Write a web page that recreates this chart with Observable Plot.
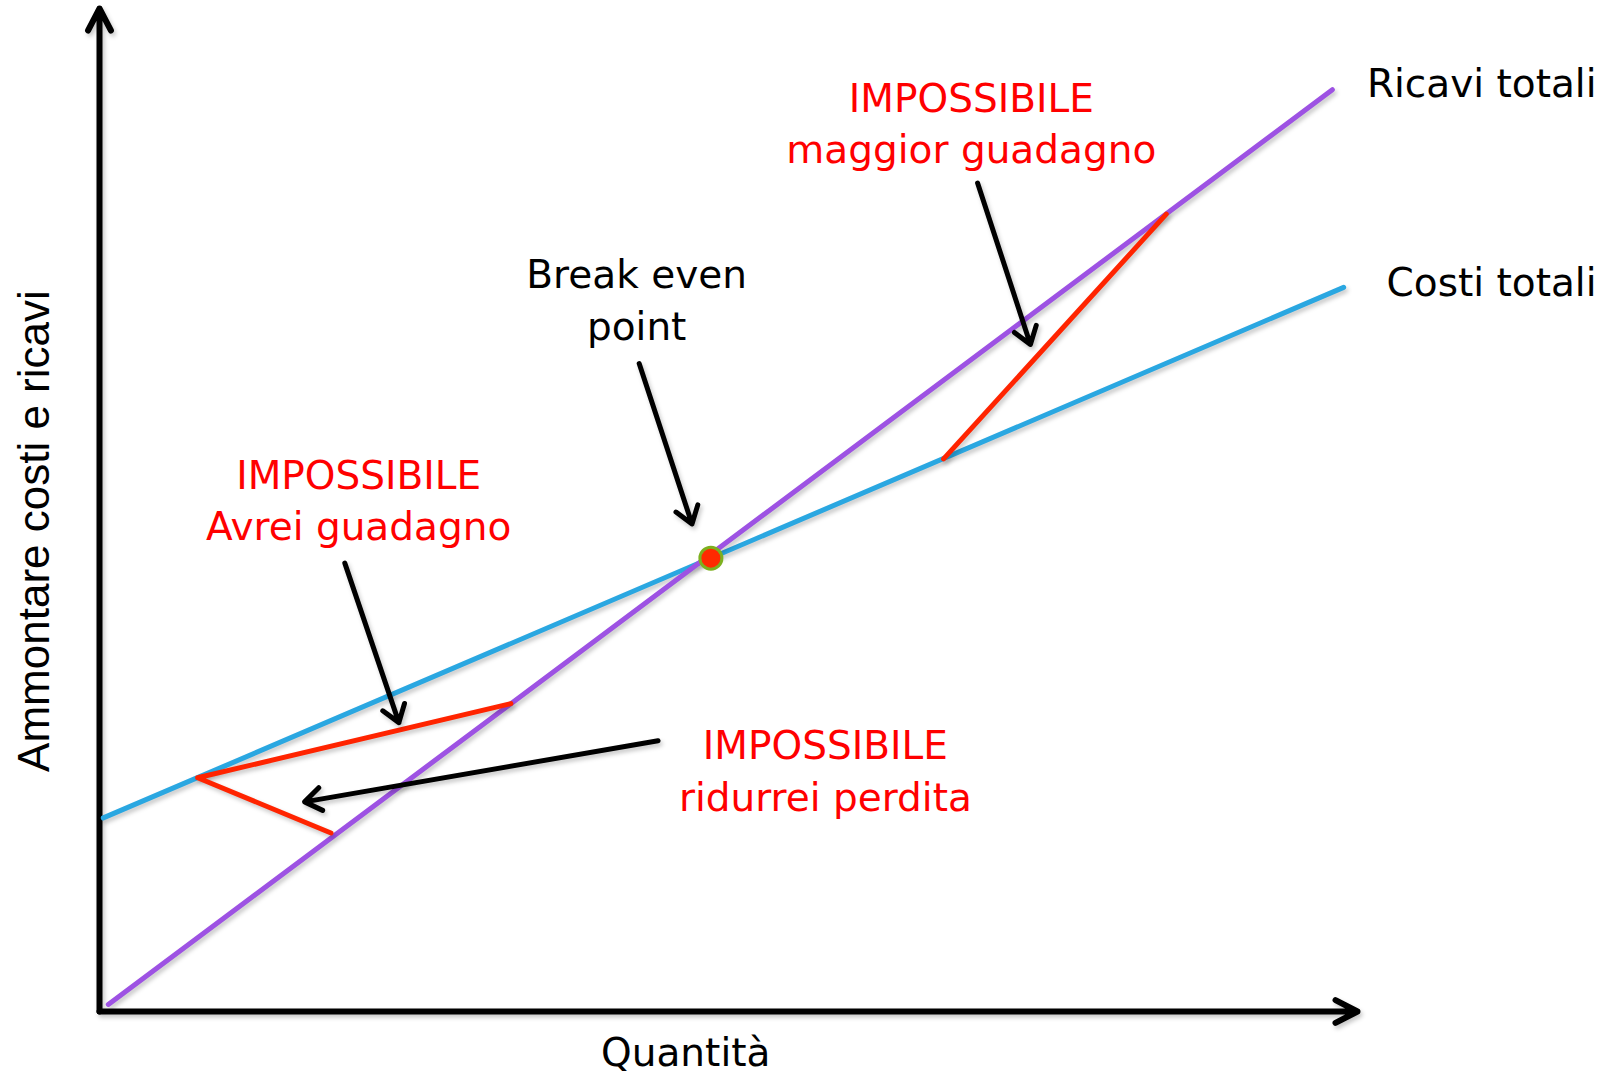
<!DOCTYPE html>
<html>
<head>
<meta charset="utf-8">
<script src="https://cdn.jsdelivr.net/npm/d3@7"></script>
<script src="https://cdn.jsdelivr.net/npm/@observablehq/plot@0.6"></script>
<style>
  html, body { margin: 0; padding: 0; background: #fff; }
  .shadow { filter: drop-shadow(2px 3px 2px rgba(0,0,0,0.22)); }
</style>
</head>
<body>
<div id="chart"></div>
<script>
// ---- Data (quantità on x, ammontare on y, arbitrary units 0..100) ----
const ricaviQ = [0.7, 98.0];
const ricaviV = [0.7, 91.9];
const costiQ = [0.3, 98.9];
const costiV = [19.3, 72.2];
const breakEven = [{q: 48.6, v: 45.2}];

// impossible points (red segments)
const segMaggiorQ = [84.8, 67.1];
const segMaggiorV = [79.5, 55.1];
const segAvreiQ = [32.7, 7.8, 18.4];
const segAvreiV = [30.7, 23.3, 17.8];

// annotation arrows (from label towards point)
const arrowFromQ = [42.9, 19.5, 44.4, 69.8];
const arrowFromV = [64.6, 44.7, 27.0, 82.6];
const arrowToQ = [47.1, 23.8, 16.3, 74.0];
const arrowToV = [48.6, 28.8, 20.9, 66.5];

// annotation labels
const redLabels = ["IMPOSSIBILE\nmaggior guadagno", "IMPOSSIBILE\nAvrei guadagno", "IMPOSSIBILE\nridurrei perdita"];
const redLabelQ = [69.3, 20.6, 57.7];
const redLabelV = [88.8, 51.2, 24.2];
const blackLabels = ["Break even\npoint"];
const blackLabelQ = [42.7];
const blackLabelV = [71.2];
const seriesLabels = ["Ricavi totali", "Costi totali"];
const seriesLabelQ = [119.0, 119.0];
const seriesLabelV = [92.4, 72.6];
const xTitle = "Quantità";
const yTitle = "Ammontare costi e ricavi";

// ---- Build tables ----
const toPts = (qs, vs) => qs.map((q, i) => ({q, v: vs[i]}));
const ricavi = toPts(ricaviQ, ricaviV);
const costi = toPts(costiQ, costiV);
const segMaggior = toPts(segMaggiorQ, segMaggiorV);
const segAvrei = toPts(segAvreiQ, segAvreiV);
const arrows = arrowFromQ.map((q, i) => ({x1: q, y1: arrowFromV[i], x2: arrowToQ[i], y2: arrowToV[i]}));
const redText = redLabels.map((t, i) => ({t, q: redLabelQ[i], v: redLabelV[i]}));
const blackText = blackLabels.map((t, i) => ({t, q: blackLabelQ[i], v: blackLabelV[i]}));
const seriesText = seriesLabels.map((t, i) => ({t, q: seriesLabelQ[i], v: seriesLabelV[i]}));
const axes = [{x1: 0, y1: 0, x2: 100, y2: 0}, {x1: 0, y1: 0, x2: 0, y2: 100}];

const font = "DejaVu Sans, Verdana, sans-serif";

const chart = Plot.plot({
  width: 1615,
  height: 1076,
  marginLeft: 99,
  marginRight: 258,
  marginTop: 8,
  marginBottom: 65,
  x: {domain: [0, 100], axis: null},
  y: {domain: [0, 100], axis: null},
  style: {background: "#fff", overflow: "visible"},
  marks: [
    // axes
    Plot.arrow(axes, {x1: "x1", y1: "y1", x2: "x2", y2: "y2", stroke: "#000", strokeWidth: 6, headLength: 6.2, headAngle: 55, className: "shadow"}),
    // lines
    Plot.line(costi, {x: "q", y: "v", stroke: "#2AA7E1", strokeWidth: 5, className: "shadow"}),
    Plot.line(ricavi, {x: "q", y: "v", stroke: "#9D52E3", strokeWidth: 5, className: "shadow"}),
    // impossible segments
    Plot.line(segMaggior, {x: "q", y: "v", stroke: "#FF2400", strokeWidth: 5, className: "shadow"}),
    Plot.line(segAvrei, {x: "q", y: "v", stroke: "#FF2400", strokeWidth: 5, className: "shadow"}),
    // annotation arrows
    Plot.arrow(arrows, {x1: "x1", y1: "y1", x2: "x2", y2: "y2", stroke: "#000", strokeWidth: 5, headLength: 6, headAngle: 70, className: "shadow"}),
    // break-even point
    Plot.dot(breakEven, {x: "q", y: "v", r: 11, fill: "#FF2A00", stroke: "#7DB01F", strokeWidth: 3}),
    // texts
    Plot.text(redText, {x: "q", y: "v", text: "t", fill: "#FF0000", fontSize: 39, fontFamily: font, lineHeight: 1.33}),
    Plot.text(blackText, {x: "q", y: "v", text: "t", fill: "#000", fontSize: 39, fontFamily: font, lineHeight: 1.33}),
    Plot.text(seriesText, {x: "q", y: "v", text: "t", fill: "#000", fontSize: 39, fontFamily: font, textAnchor: "end"}),
    Plot.text([xTitle], {x: () => 46.6, y: () => -4.15, text: d => d, fill: "#000", fontSize: 39, fontFamily: font}),
    Plot.text([yTitle], {x: () => -5.1, y: () => 47.9, text: d => d, rotate: -90, fill: "#000", fontSize: 44, fontFamily: "Liberation Sans, Arial, sans-serif"})
  ]
});
document.getElementById("chart").appendChild(chart);
</script>
</body>
</html>
